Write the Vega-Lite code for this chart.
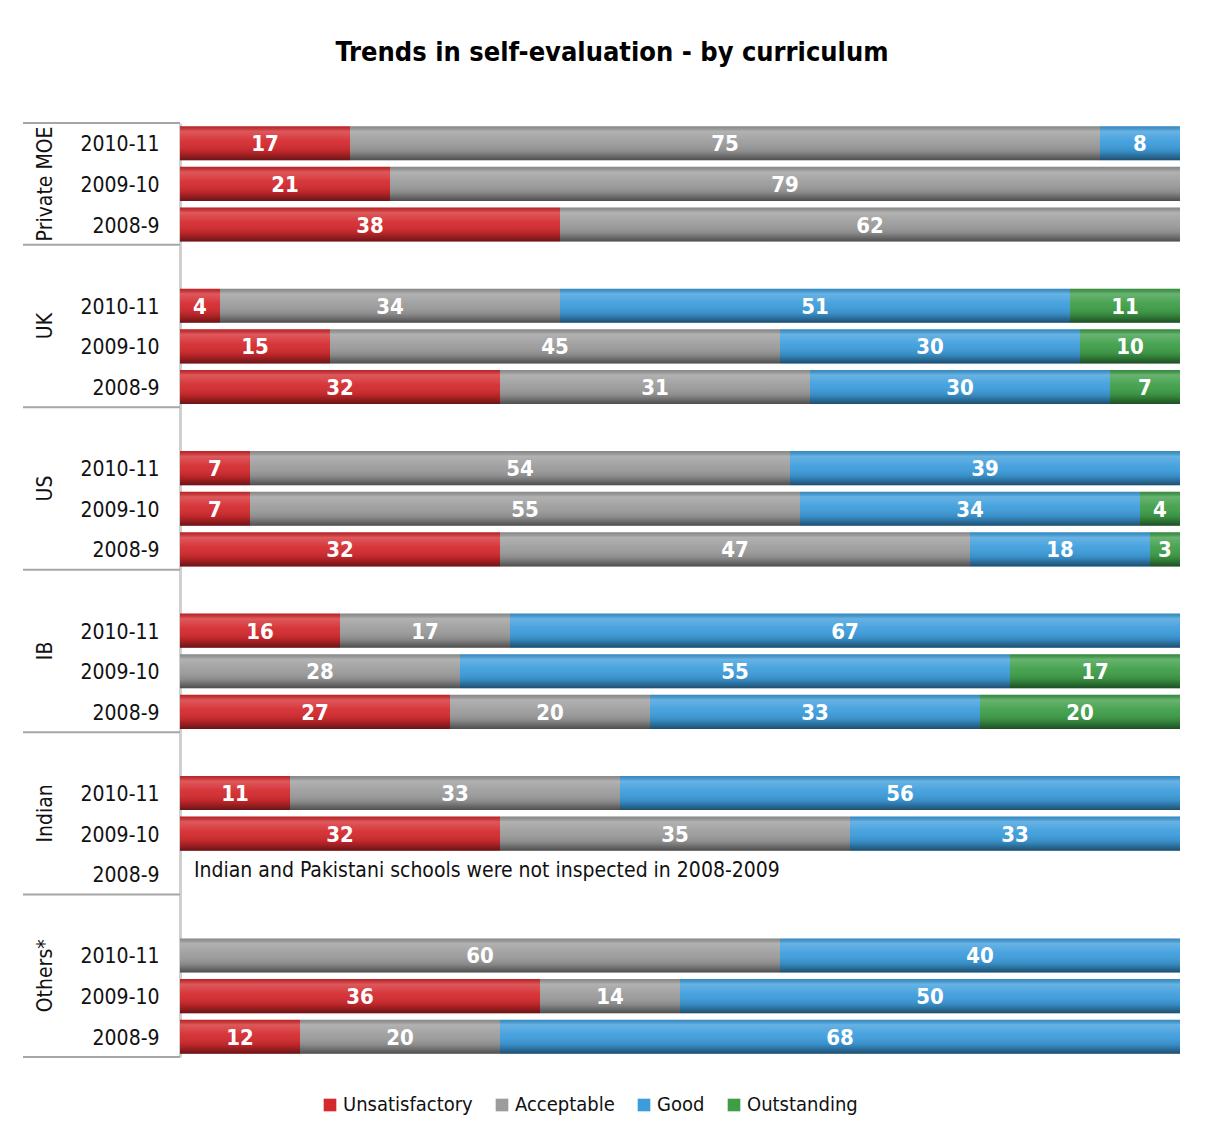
{
  "$schema": "https://vega.github.io/schema/vega-lite/v6.json",
  "autosize": {"type": "none"},
  "padding": {"left": 22, "top": 123, "right": 26, "bottom": 69},
  "width": 1158,
  "height": 934,
  "background": "white",
  "title": {"text": "Trends in self-evaluation - by curriculum", "fontSize": 27, "fontWeight": "bold", "font": "DejaVu Sans Condensed", "anchor": "middle", "dx": 11, "offset": 55, "color": "#000000"},
  "datasets": {
    "bars": [
      {"slot": "Private MOE|2010-11", "cat": "Unsatisfactory", "v": 17},
      {"slot": "Private MOE|2010-11", "cat": "Acceptable", "v": 75},
      {"slot": "Private MOE|2010-11", "cat": "Good", "v": 8},
      {"slot": "Private MOE|2009-10", "cat": "Unsatisfactory", "v": 21},
      {"slot": "Private MOE|2009-10", "cat": "Acceptable", "v": 79},
      {"slot": "Private MOE|2008-9", "cat": "Unsatisfactory", "v": 38},
      {"slot": "Private MOE|2008-9", "cat": "Acceptable", "v": 62},
      {"slot": "UK|2010-11", "cat": "Unsatisfactory", "v": 4},
      {"slot": "UK|2010-11", "cat": "Acceptable", "v": 34},
      {"slot": "UK|2010-11", "cat": "Good", "v": 51},
      {"slot": "UK|2010-11", "cat": "Outstanding", "v": 11},
      {"slot": "UK|2009-10", "cat": "Unsatisfactory", "v": 15},
      {"slot": "UK|2009-10", "cat": "Acceptable", "v": 45},
      {"slot": "UK|2009-10", "cat": "Good", "v": 30},
      {"slot": "UK|2009-10", "cat": "Outstanding", "v": 10},
      {"slot": "UK|2008-9", "cat": "Unsatisfactory", "v": 32},
      {"slot": "UK|2008-9", "cat": "Acceptable", "v": 31},
      {"slot": "UK|2008-9", "cat": "Good", "v": 30},
      {"slot": "UK|2008-9", "cat": "Outstanding", "v": 7},
      {"slot": "US|2010-11", "cat": "Unsatisfactory", "v": 7},
      {"slot": "US|2010-11", "cat": "Acceptable", "v": 54},
      {"slot": "US|2010-11", "cat": "Good", "v": 39},
      {"slot": "US|2009-10", "cat": "Unsatisfactory", "v": 7},
      {"slot": "US|2009-10", "cat": "Acceptable", "v": 55},
      {"slot": "US|2009-10", "cat": "Good", "v": 34},
      {"slot": "US|2009-10", "cat": "Outstanding", "v": 4},
      {"slot": "US|2008-9", "cat": "Unsatisfactory", "v": 32},
      {"slot": "US|2008-9", "cat": "Acceptable", "v": 47},
      {"slot": "US|2008-9", "cat": "Good", "v": 18},
      {"slot": "US|2008-9", "cat": "Outstanding", "v": 3},
      {"slot": "IB|2010-11", "cat": "Unsatisfactory", "v": 16},
      {"slot": "IB|2010-11", "cat": "Acceptable", "v": 17},
      {"slot": "IB|2010-11", "cat": "Good", "v": 67},
      {"slot": "IB|2009-10", "cat": "Acceptable", "v": 28},
      {"slot": "IB|2009-10", "cat": "Good", "v": 55},
      {"slot": "IB|2009-10", "cat": "Outstanding", "v": 17},
      {"slot": "IB|2008-9", "cat": "Unsatisfactory", "v": 27},
      {"slot": "IB|2008-9", "cat": "Acceptable", "v": 20},
      {"slot": "IB|2008-9", "cat": "Good", "v": 33},
      {"slot": "IB|2008-9", "cat": "Outstanding", "v": 20},
      {"slot": "Indian|2010-11", "cat": "Unsatisfactory", "v": 11},
      {"slot": "Indian|2010-11", "cat": "Acceptable", "v": 33},
      {"slot": "Indian|2010-11", "cat": "Good", "v": 56},
      {"slot": "Indian|2009-10", "cat": "Unsatisfactory", "v": 32},
      {"slot": "Indian|2009-10", "cat": "Acceptable", "v": 35},
      {"slot": "Indian|2009-10", "cat": "Good", "v": 33},
      {"slot": "Others*|2010-11", "cat": "Acceptable", "v": 60},
      {"slot": "Others*|2010-11", "cat": "Good", "v": 40},
      {"slot": "Others*|2009-10", "cat": "Unsatisfactory", "v": 36},
      {"slot": "Others*|2009-10", "cat": "Acceptable", "v": 14},
      {"slot": "Others*|2009-10", "cat": "Good", "v": 50},
      {"slot": "Others*|2008-9", "cat": "Unsatisfactory", "v": 12},
      {"slot": "Others*|2008-9", "cat": "Acceptable", "v": 20},
      {"slot": "Others*|2008-9", "cat": "Good", "v": 68}
    ],
    "groups": [
      {"group": "Private MOE", "slot": "Private MOE|2009-10"},
      {"group": "UK", "slot": "UK|2009-10"},
      {"group": "US", "slot": "US|2009-10"},
      {"group": "IB", "slot": "IB|2009-10"},
      {"group": "Indian", "slot": "Indian|2009-10"},
      {"group": "Others*", "slot": "Others*|2009-10"}
    ],
    "seps": [
      {"slot": "Private MOE|2010-11", "edge": "top"},
      {"slot": "UK|", "edge": "top"},
      {"slot": "US|", "edge": "top"},
      {"slot": "IB|", "edge": "top"},
      {"slot": "Indian|", "edge": "top"},
      {"slot": "Others*|", "edge": "top"},
      {"slot": "Others*|2008-9", "edge": "bottom"}
    ],
    "notes": [
      {"slot": "Indian|2008-9", "note": "Indian and Pakistani schools were not inspected in 2008-2009"}
    ]
  },
  "encoding": {
    "y": {"field": "slot", "type": "nominal", "sort": null,
      "scale": {"domain": ["Private MOE|2010-11","Private MOE|2009-10","Private MOE|2008-9","UK|","UK|2010-11","UK|2009-10","UK|2008-9","US|","US|2010-11","US|2009-10","US|2008-9","IB|","IB|2010-11","IB|2009-10","IB|2008-9","Indian|","Indian|2010-11","Indian|2009-10","Indian|2008-9","Others*|","Others*|2010-11","Others*|2009-10","Others*|2008-9"], "paddingInner": 0, "paddingOuter": 0},
      "axis": {"title": null, "labelExpr": "split(datum.label, '|')[1]"}
    }
  },
  "layer": [
    {
      "data": {"name": "bars"},
      "transform": [
        {"calculate": "indexof(['Unsatisfactory','Acceptable','Good','Outstanding'], datum.cat)", "as": "rank"},
        {"stack": "v", "groupby": ["slot"], "sort": [{"field": "rank", "order": "ascending"}], "as": ["v0", "v1"]}
      ],
      "mark": {"type": "bar", "height": {"band": 0.84}},
      "encoding": {
        "x": {"field": "v0", "type": "quantitative", "scale": {"domain": [-15.8, 100], "nice": false, "zero": false}, "axis": null},
        "x2": {"field": "v1"},
        "color": {"field": "cat", "type": "nominal",
          "scale": {"domain": ["Unsatisfactory", "Acceptable", "Good", "Outstanding"], "range": ["#d42a2e", "#9c9c9c", "#3d9ddc", "#3e9e48"]},
          "legend": {"title": null, "orient": "none", "legendX": 298, "legendY": 972, "direction": "horizontal", "symbolType": "square", "symbolSize": 160, "labelFontSize": 20, "labelColor": "#111111", "columnPadding": 19, "symbolStrokeWidth": 0, "labelOffset": 3}
        }
      }
    },
    {
      "data": {"name": "bars"},
      "transform": [
        {"calculate": "indexof(['Unsatisfactory','Acceptable','Good','Outstanding'], datum.cat)", "as": "rank"},
        {"stack": "v", "groupby": ["slot"], "sort": [{"field": "rank", "order": "ascending"}], "as": ["v0", "v1"]}
      ],
      "mark": {"type": "bar", "height": {"band": 0.84}, "fill": {"gradient": "linear", "x1": 0, "y1": 0, "x2": 0, "y2": 1, "stops": [
        {"offset": 0, "color": "rgba(0,0,0,0.12)"},
        {"offset": 0.15, "color": "rgba(255,255,255,0.22)"},
        {"offset": 0.45, "color": "rgba(255,255,255,0.05)"},
        {"offset": 0.75, "color": "rgba(0,0,0,0.12)"},
        {"offset": 1, "color": "rgba(0,0,0,0.5)"}
      ]}},
      "encoding": {
        "x": {"field": "v0", "type": "quantitative", "axis": null},
        "x2": {"field": "v1"}
      }
    },
    {
      "data": {"name": "bars"},
      "transform": [
        {"calculate": "indexof(['Unsatisfactory','Acceptable','Good','Outstanding'], datum.cat)", "as": "rank"},
        {"stack": "v", "groupby": ["slot"], "sort": [{"field": "rank", "order": "ascending"}], "as": ["v0", "v1"]},
        {"calculate": "(datum.v0 + datum.v1) / 2", "as": "mid"}
      ],
      "mark": {"type": "text", "color": "white", "fontSize": 22, "fontWeight": "bold", "baseline": "middle", "align": "center", "dy": 1},
      "encoding": {
        "x": {"field": "mid", "type": "quantitative", "axis": null},
        "text": {"field": "v", "type": "quantitative"}
      }
    },
    {
      "data": {"name": "seps"},
      "transform": [{"filter": "datum.edge == 'top'"}],
      "mark": {"type": "rule", "color": "#a6a6a6", "strokeWidth": 2},
      "encoding": {
        "y": {"field": "slot", "type": "nominal", "sort": null, "bandPosition": 0},
        "x": {"datum": -15.7, "type": "quantitative", "axis": null},
        "x2": {"datum": 0}
      }
    },
    {
      "data": {"name": "seps"},
      "transform": [{"filter": "datum.edge == 'bottom'"}],
      "mark": {"type": "rule", "color": "#a6a6a6", "strokeWidth": 2},
      "encoding": {
        "y": {"field": "slot", "type": "nominal", "sort": null, "bandPosition": 1},
        "x": {"datum": -15.7, "type": "quantitative", "axis": null},
        "x2": {"datum": 0}
      }
    },
    {
      "data": {"name": "groups"},
      "transform": [{"filter": "datum.group == 'Private MOE'"}],
      "mark": {"type": "text", "angle": 270, "align": "center", "baseline": "middle", "fontSize": 21, "color": "#111111"},
      "encoding": {
        "y": {"field": "slot", "type": "nominal", "sort": null, "bandPosition": 0.5},
        "x": {"datum": -13.4, "type": "quantitative", "axis": null},
        "text": {"field": "group"}
      }
    },
    {
      "data": {"name": "groups"},
      "transform": [{"filter": "datum.group != 'Private MOE'"}],
      "mark": {"type": "text", "angle": 270, "align": "center", "baseline": "middle", "fontSize": 21, "color": "#111111"},
      "encoding": {
        "y": {"field": "slot", "type": "nominal", "sort": null, "bandPosition": 0},
        "x": {"datum": -13.4, "type": "quantitative", "axis": null},
        "text": {"field": "group"}
      }
    },
    {
      "data": {"name": "notes"},
      "mark": {"type": "text", "align": "left", "baseline": "middle", "fontSize": 21, "color": "#111111", "dy": -3},
      "encoding": {
        "x": {"datum": 1.4, "type": "quantitative", "axis": null},
        "text": {"field": "note"}
      }
    }
  ],
  "config": {
    "view": {"stroke": null},
    "font": "DejaVu Sans Condensed",
    "axisY": {"offset": -158, "domainColor": "#d0d0d0", "domainWidth": 3, "ticks": false, "grid": false, "labelFontSize": 21, "labelColor": "#111111", "labelPadding": 21, "labelOffset": 2, "labelOverlap": false, "labelBound": false}
  }
}
